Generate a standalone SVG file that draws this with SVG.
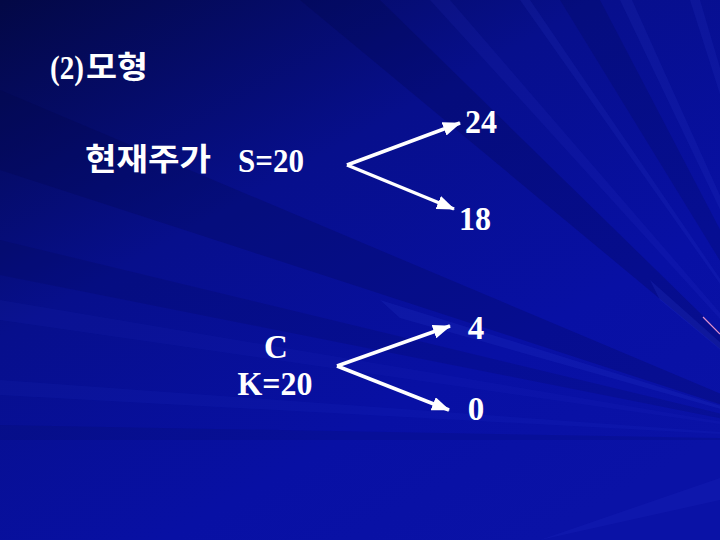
<svg xmlns="http://www.w3.org/2000/svg" width="720" height="540" viewBox="0 0 720 540">
<defs>
<linearGradient id="bg" x1="0" y1="0" x2="0.75" y2="1">
<stop offset="0" stop-color="#030845"/>
<stop offset="0.4" stop-color="#070f8c"/>
<stop offset="0.75" stop-color="#0810a4"/>
<stop offset="1" stop-color="#0a12a6"/>
</linearGradient>
<marker id="ah" viewBox="0 0 18 14" refX="17" refY="7" markerWidth="18" markerHeight="14" orient="auto" markerUnits="userSpaceOnUse">
<path d="M0,0 L18,7 L0,14 z" fill="#ffffff"/>
</marker>
<style>
.t{fill:#ffffff;font-family:"Liberation Serif","Times New Roman",serif;font-weight:bold;font-size:33px}
.k{fill:#ffffff;font-family:"Noto Sans CJK KR","Noto Sans",sans-serif;font-weight:bold;font-size:31px}
.c{stroke:#ffffff;stroke-width:3.5;fill:none;marker-end:url(#ah)}
.lr{fill:#3848e0}
.dr{fill:#020540}
</style>
</defs>
<rect width="720" height="540" fill="url(#bg)"/>
<g id="background-rays">
<polygon class="dr" points="830,440 0,90 0,170" opacity="0.2"/>
<polygon class="dr" points="830,440 0,240 0,275" opacity="0.15"/>
<polygon class="dr" points="830,440 0,425 0,440" opacity="0.12"/>
<polygon class="dr" points="830,440 300,0 380,0" opacity="0.22"/>
<polygon class="dr" points="830,440 560,0 600,0" opacity="0.18"/>
<polygon class="lr" points="830,440 430,0 450,0" opacity="0.1"/>
<polygon class="lr" points="830,440 520,0 530,0" opacity="0.12"/>
<polygon class="lr" points="830,440 620,0 632,0" opacity="0.12"/>
<polygon class="lr" points="830,440 690,0 700,0" opacity="0.12"/>
<polygon class="lr" points="830,440 0,300 0,320" opacity="0.07"/>
<polygon class="lr" points="830,440 0,380 0,395" opacity="0.08"/>
<polygon class="lr" points="830,440 380,300 400,318" opacity="0.15"/>
<polygon class="lr" points="830,440 540,540 720,500" opacity="0.1"/>
<polygon class="lr" points="830,440 650,280 660,300" opacity="0.18"/>
<line x1="703" y1="317" x2="720" y2="334" stroke="#e090d0" stroke-width="1.2"/>
</g>
<g id="title"><text x="50" y="79" class="t" font-size="30" textLength="34" lengthAdjust="spacingAndGlyphs">(2)</text><text x="86" y="78" class="k" font-size="30" textLength="62" lengthAdjust="spacingAndGlyphs">모형</text></g>
<g id="node-stock"><text x="85" y="170" class="k" font-size="31" textLength="126" lengthAdjust="spacingAndGlyphs">현재주가</text><text x="238" y="172" class="t" textLength="66" lengthAdjust="spacingAndGlyphs">S=20</text></g>
<g id="node-24"><text x="465" y="133" class="t" textLength="32" lengthAdjust="spacingAndGlyphs">24</text></g>
<g id="node-18"><text x="459" y="230" class="t" textLength="32" lengthAdjust="spacingAndGlyphs">18</text></g>
<g id="node-call"><text x="276" y="358" class="t" text-anchor="middle">C</text><text x="275" y="395" class="t" text-anchor="middle" textLength="75" lengthAdjust="spacingAndGlyphs">K=20</text></g>
<g id="node-4"><text x="476" y="339" class="t" text-anchor="middle">4</text></g>
<g id="node-0"><text x="476" y="420" class="t" text-anchor="middle">0</text></g>
<g id="connectors">
<path class="c" d="M347,165 L460,123"/>
<path class="c" d="M347,165 L454,209"/>
<path class="c" d="M337,366 L450,326"/>
<path class="c" d="M337,366 L449,410"/>
</g>
</svg>
